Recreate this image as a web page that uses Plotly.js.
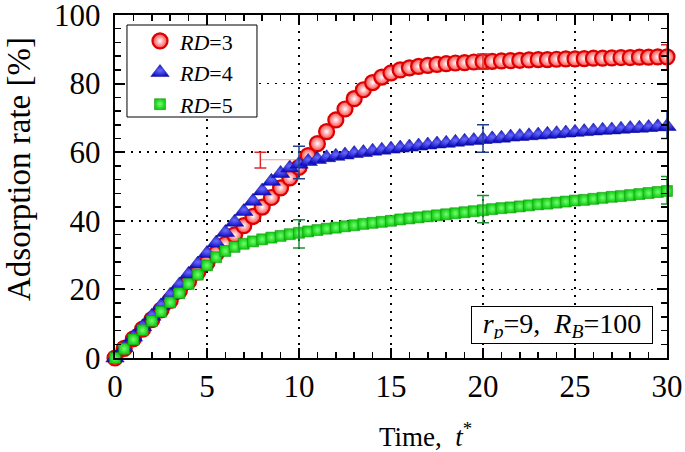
<!DOCTYPE html>
<html>
<head>
<meta charset="utf-8">
<script src="https://cdn.plot.ly/plotly-3.0.1.min.js"></script>
<style>html,body{margin:0;padding:0;background:#fff;}#chart{width:685px;height:452px;}</style>
</head>
<body>
<div id="chart"></div>
<script>
// Time axis values t*
const timeT = [0,0.5,1,1.5,2,2.5,3,3.5,4,4.5,5,5.5,6,6.5,7,7.5,8,8.5,9,9.5,10,10.5,11,11.5,12,12.5,13,13.5,14,14.5,15,15.5,16,16.5,17,17.5,18,18.5,19,19.5,20,20.5,21,21.5,22,22.5,23,23.5,24,24.5,25,25.5,26,26.5,27,27.5,28,28.5,29,29.5,30];

// Adsorption rate [%] for RD=3
const rate_RD3 = [0,2.8,5.6,8.4,11.2,14.0,16.8,19.6,22.4,25.1,27.8,30.5,33.2,35.9,38.6,41.3,44.0,46.8,49.6,52.5,55.6,59.0,62.5,66.0,69.4,72.6,75.6,78.2,80.3,81.9,83.1,84.0,84.6,85.0,85.3,85.6,85.8,86.0,86.1,86.3,86.4,86.5,86.6,86.7,86.8,86.9,87.0,87.0,87.1,87.2,87.2,87.3,87.4,87.4,87.5,87.6,87.6,87.7,87.7,87.8,87.8];

// Adsorption rate [%] for RD=4
const rate_RD4 = [0,3.0,6.1,9.1,12.2,15.2,18.3,21.3,24.4,27.4,30.5,33.5,36.6,39.6,42.7,45.7,48.7,51.5,53.8,55.4,56.5,57.3,57.9,58.4,58.8,59.2,59.6,59.9,60.3,60.6,60.9,61.2,61.5,61.8,62.1,62.4,62.6,62.9,63.2,63.4,63.7,63.9,64.1,64.4,64.6,64.8,65.0,65.2,65.4,65.6,65.8,66.0,66.2,66.4,66.5,66.7,66.9,67.0,67.2,67.4,67.5];

// Adsorption rate [%] for RD=5
const rate_RD5 = [0,2.7,5.4,8.1,10.8,13.5,16.2,18.9,21.6,24.3,27.0,29.4,31.2,32.4,33.3,34.0,34.6,35.1,35.6,36.1,36.5,36.9,37.3,37.7,38.0,38.4,38.7,39.1,39.4,39.7,40.0,40.4,40.7,41.0,41.3,41.6,41.9,42.2,42.5,42.8,43.1,43.4,43.7,43.9,44.2,44.5,44.8,45.0,45.3,45.6,45.9,46.1,46.4,46.7,47.0,47.2,47.5,47.8,48.1,48.4,48.7];

// Error bars (centre, half-range)
const errT_RD3 = [7.9, 20, 30];
const errY_RD3 = [57.7, 86.4, 87.6];
const errE_RD3 = [2.3, 2.2, 3.7];
const errT_RD4 = [10, 20, 30];
const errY_RD4 = [57.0, 64.0, 68.0];
const errE_RD4 = [4.75, 4.0, 4.0];
const errT_RD5 = [10, 20, 30];
const errY_RD5 = [36.2, 43.4, 48.9];
const errE_RD5 = [4.1, 4.0, 4.0];
// faint connector next to the displaced RD=3 error bar
const linkT_RD3 = [7.9, 9.9];
const linkY_RD3 = [57.8, 57.8];

const seriesNames = ['<i>RD</i>=3', '<i>RD</i>=4', '<i>RD</i>=5'];
const xTickVals = [0,5,10,15,20,25,30];
const yTickVals = [0,20,40,60,80,100];

const FONT = 'Liberation Serif, Times New Roman, serif';

const traces = [
  {x: timeT, y: rate_RD3, name: seriesNames[0], type: 'scatter', mode: 'markers', cliponaxis: false,
   marker: {symbol: 'circle', size: 15, color: '#ff4040', gradient: {type: 'radial', color: '#ffffff'},
            line: {color: '#dd0000', width: 2.2}}},
  {x: timeT, y: rate_RD4, name: seriesNames[1], type: 'scatter', mode: 'markers', cliponaxis: false,
   marker: {symbol: 'triangle-up', size: 16, color: '#1212c4', gradient: {type: 'radial', color: '#6a6aff'},
            line: {color: '#0c0c90', width: 0.5}}},
  {x: timeT, y: rate_RD5, name: seriesNames[2], type: 'scatter', mode: 'markers', cliponaxis: false,
   marker: {symbol: 'square', size: 11, color: '#14cc14', gradient: {type: 'radial', color: '#70ff70'},
            line: {color: '#0a8a0a', width: 0.5}}},
  {x: linkT_RD3, y: linkY_RD3, type: 'scatter', mode: 'lines', showlegend: false, hoverinfo: 'skip',
   line: {color: 'rgba(240,110,110,0.7)', width: 1}},
  {x: errT_RD3, y: errY_RD3, type: 'scatter', mode: 'markers', showlegend: false, cliponaxis: false,
   marker: {opacity: 0, size: 1}, error_y: {type: 'data', array: errE_RD3, visible: true, color: '#e02828', thickness: 1.5, width: 6}},
  {x: errT_RD4, y: errY_RD4, type: 'scatter', mode: 'markers', showlegend: false, cliponaxis: false,
   marker: {opacity: 0, size: 1}, error_y: {type: 'data', array: errE_RD4, visible: true, color: '#20408f', thickness: 1.5, width: 6}},
  {x: errT_RD5, y: errY_RD5, type: 'scatter', mode: 'markers', showlegend: false, cliponaxis: false,
   marker: {opacity: 0, size: 1}, error_y: {type: 'data', array: errE_RD5, visible: true, color: '#1f8f35', thickness: 1.5, width: 6}}
];

const axisCommon = {
  showline: true, linecolor: '#000', linewidth: 2, mirror: 'allticks',
  ticks: 'inside', ticklen: 10, tickwidth: 2, tickcolor: '#000',
  showgrid: true, gridcolor: '#000', gridwidth: 1.5, griddash: '2px,6px',
  zeroline: false, ticklabeloverflow: 'allow',
  tickfont: {family: FONT, size: 31, color: '#000'}
};

const layout = {
  width: 685, height: 452,
  margin: {l: 115, r: 18, t: 15, b: 94},
  paper_bgcolor: '#fff', plot_bgcolor: '#fff',
  font: {family: FONT, color: '#000'},
  showlegend: true,
  legend: {x: 0.0453, y: 0.985, xanchor: 'left', yanchor: 'top', bgcolor: 'rgba(0,0,0,0)',
           borderwidth: 0, font: {family: FONT, size: 22, color: '#000'}},
  shapes: [
    {type: 'rect', xref: 'paper', yref: 'paper', x0: 0.0217, x1: 0.2572, y0: 0.7026, y1: 0.9708,
     line: {color: '#000', width: 1}, fillcolor: '#fff', layer: 'above'}
  ],
  xaxis: Object.assign({}, axisCommon, {range: [0, 30], tickvals: xTickVals, ticktext: xTickVals.map(String),
    minor: {dtick: 1, ticks: 'inside', ticklen: 6, tickwidth: 1.5, tickcolor: '#000', showgrid: false}}),
  yaxis: Object.assign({}, axisCommon, {range: [0, 100], tickvals: yTickVals,
    ticktext: yTickVals.map(v => String(v) + '\u2009'),
    minor: {dtick: 4, ticks: 'inside', ticklen: 6, tickwidth: 1.5, tickcolor: '#000', showgrid: false}}),
  annotations: [
    {xref: 'paper', yref: 'paper', x: -0.174, y: 0.551, xanchor: 'center', yanchor: 'middle',
     text: 'Adsorption rate [%]', textangle: -90, showarrow: false, font: {family: FONT, size: 33, color: '#000'}},
    {xref: 'paper', yref: 'paper', x: 0.5616, y: -0.224, xanchor: 'center', yanchor: 'middle',
     text: 'Time,\u00A0\u00A0<i>t</i><sup>*</sup>', showarrow: false, font: {family: FONT, size: 27, color: '#000'}},
    {xref: 'paper', yref: 'paper', x: 0.809, y: 0.096, xanchor: 'center', yanchor: 'middle',
     text: '<i>r<sub>p</sub></i>=9,\u00A0\u00A0<i>R<sub>B</sub></i>=100', showarrow: false,
     width: 172, height: 28,
     bgcolor: '#fff', bordercolor: '#000', borderwidth: 1, borderpad: 4,
     font: {family: FONT, size: 28, color: '#000'}}
  ]
};

Plotly.newPlot('chart', traces, layout, {displayModeBar: false, staticPlot: true});
</script>
</body>
</html>
